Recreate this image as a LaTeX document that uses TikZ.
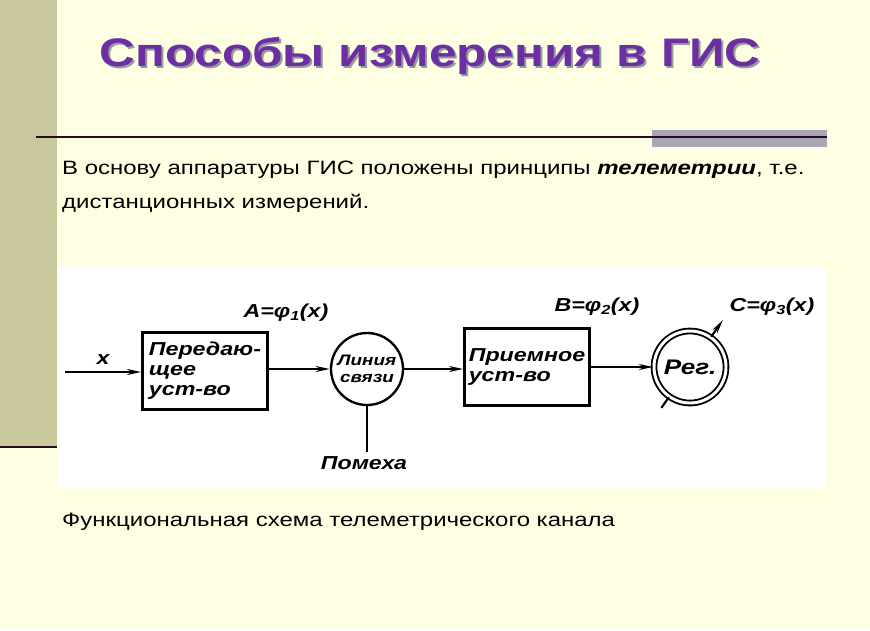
\documentclass[tikz,border=0pt]{standalone}
\usepackage{fontspec}
\setmainfont[FakeStretch=1.24]{Liberation Sans}
\usetikzlibrary{positioning, arrows.meta, calc}
\definecolor{slidebg}{HTML}{FEFEE3}
\definecolor{stripe}{HTML}{C9C79C}
\definecolor{titlepurple}{HTML}{6C2FA3}
\definecolor{rulecolor}{HTML}{2A0B22}
\definecolor{bargray}{HTML}{A9A7B5}

\begin{document}
\begin{tikzpicture}[
    x=0.03cm, y=-0.03cm,
    >={Stealth[length=12pt, width=5pt]},
    block/.style={
        draw, line width=2.2pt, minimum width=125*0.03cm, minimum height=77*0.03cm,
        align=left, inner sep=2pt,
        font=\fontsize{16}{17}\selectfont\bfseries\itshape,
    },
    ring/.style={
        draw, circle, line width=2pt, minimum size=72*0.03cm, inner sep=0pt,
        align=center, font=\fontsize{13}{15}\selectfont\bfseries\itshape,
    },
    sig/.style={->, line width=2pt},
    formula/.style={font=\fontsize{16}{16}\selectfont\bfseries\itshape},
    bodytext/.style={anchor=west, inner sep=0pt, font=\fontsize{16.5}{20}\selectfont},
    headline/.style={font=\fontsize{34}{40}\selectfont\bfseries},
]

% Slide background
\fill[slidebg] (0,0) rectangle (870,630);
\useasboundingbox (0,0) rectangle (870,630);
\fill[stripe] (0,0) rectangle (57,447);
\draw[rulecolor, line width=2.5pt] (0,447) -- (57,447);

% Title with shadow
\node[headline, text=black!40] at (432,58) {Способы измерения в ГИС};
\node[headline, text=titlepurple] (title) at (430,56) {Способы измерения в ГИС};

% Rule under title
\fill[bargray] (652,130) rectangle (827,147);
\draw[rulecolor, line width=1.6pt] (36,137) -- (827,137);

% Body text
\node[bodytext] (intro1) at (62,170)
    {В основу аппаратуры ГИС положены принципы \textbf{\textit{телеметрии}}, т.е.};
\node[bodytext] (intro2) at (62,203) {дистанционных измерений.};

% Diagram panel
\fill[white] (58,268) rectangle (826,488);

% Blocks
\node[block] (tx) at (205,371) {Передаю-\\щее\\уст-во};
\node[ring] (link) at (367,369) {Линия\\связи};
\node[block] (rx) at (527,367) {Приемное\\уст-во};
\node[ring, double, double distance=2.5pt, line width=1.6pt,
      font=\fontsize{18}{18}\selectfont\bfseries\itshape] (reg) at (690,367) {Рег.};
\coordinate (xin) at (65,372);
\node[formula] (noise) at (364,463) {Помеха};

% Connectors
\draw[sig] (xin) -- (xin -| tx.west) node[formula, midway, above=2pt] {x};
\draw[sig] (tx.east |- link.west) -- (link.west);
\draw[sig] (link.east) -- (rx.west |- link.east);
\draw[sig] (rx.east) -- (reg.west);
\draw[line width=2pt] (link.south) -- (link.south |- noise.north);

% Pointer through the recorder
\draw[line width=1.8pt, ->] (reg.55) -- ($(reg.center)!1.55!(reg.55)$);
\draw[line width=1.8pt] (reg.235) -- ($(reg.center)!1.35!(reg.235)$);

% Signal labels
\node[formula] (siga) at (286,313) {A=φ\textsubscript{1}(x)};
\node[formula] (sigb) at (597,307) {B=φ\textsubscript{2}(x)};
\node[formula] (sigc) at (772,307) {C=φ\textsubscript{3}(x)};

% Caption
\node[bodytext] (caption) at (62,522) {Функциональная схема телеметрического канала};

\end{tikzpicture}
\end{document}
